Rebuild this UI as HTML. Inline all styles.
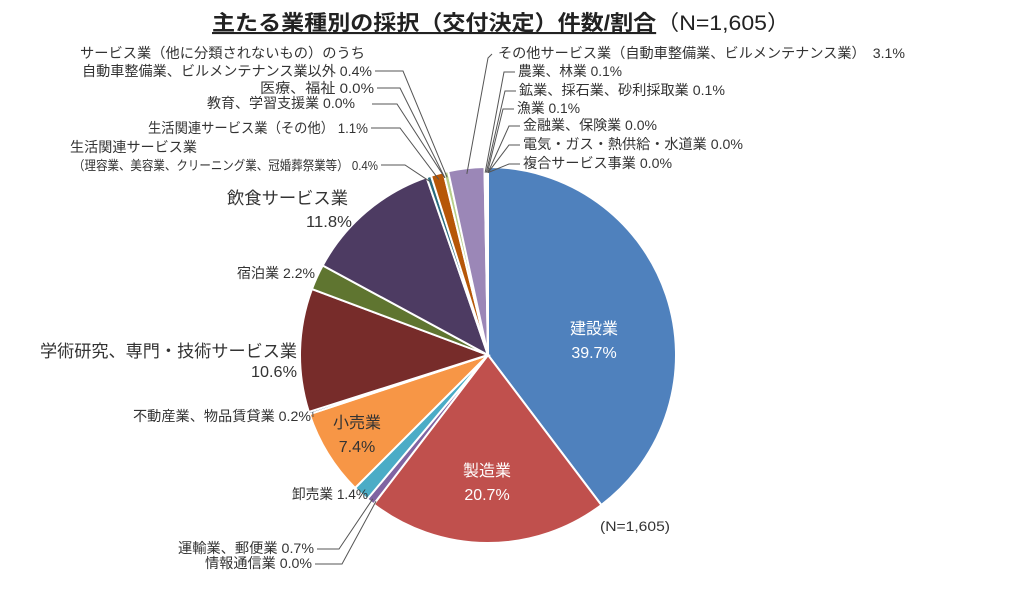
<!DOCTYPE html>
<html><head><meta charset="utf-8">
<style>
body{margin:0;background:#fff;width:1024px;height:606px;overflow:hidden}
svg{font-family:"Liberation Sans","Noto Sans CJK JP",sans-serif}
</style></head>
<body>
<svg id="chart" width="1024" height="606" viewBox="0 0 1024 606" xmlns="http://www.w3.org/2000/svg">
<text x="212" y="30" font-size="21" fill="#222" textLength="578" lengthAdjust="spacingAndGlyphs"><tspan font-weight="bold" text-decoration="underline">主たる業種別の採択（交付決定）件数/割合</tspan><tspan>（N=1,605）</tspan></text>
<g id="slices"></g>
<g id="leaders"></g>
<g id="labels"></g>
</svg>
<script>
const categories=["建設業","製造業","情報通信業","運輸業、郵便業","卸売業","小売業","不動産業、物品賃貸業","学術研究、専門・技術サービス業","宿泊業","飲食サービス業","生活関連サービス業（理容業等）","生活関連サービス業（その他）","教育、学習支援業","医療、福祉","サービス業（その他）","その他サービス業","農業、林業","鉱業、採石業、砂利採取業","漁業","金融業、保険業","電気・ガス・熱供給・水道業","複合サービス事業"];
const values=[39.7,20.7,0.0,0.7,1.4,7.4,0.2,10.6,2.2,11.8,0.4,1.1,0.0,0.0,0.4,3.1,0.1,0.1,0.1,0.0,0.0,0.0];
const valueLabels=["39.7%","20.7%","0.0%","0.7%","1.4%","7.4%","0.2%","10.6%","2.2%","11.8%","0.4%","1.1%","0.0%","0.0%","0.4%","3.1%","0.1%","0.1%","0.1%","0.0%","0.0%","0.0%"];
const colors=["#4f81bd","#c0504d","#9bbb59","#8064a2","#4bacc6","#f79646","#2c4d75","#772c2a","#5f7530","#4d3b62","#276a7c","#b65708","#729aca","#ce8e8c","#b7cf8a","#9b87b7","#7fc5d8","#f9b176","#3a67a0","#9e3b39","#7e9c40","#664f82"];
const NS="http://www.w3.org/2000/svg";
const cx=488,cy=355,R=188;
const total=values.reduce((a,b)=>a+b,0);
function ang(v){return v/total*2*Math.PI;}
function pt(a,r){return [cx+r*Math.sin(a),cy-r*Math.cos(a)];}
const sg=document.getElementById('slices');
const mids=[];
let a0=0;
values.forEach((v,i)=>{
  const a1=a0+ang(v);mids.push((a0+a1)/2);
  if(v>0){
    const p0=pt(a0,R),p1=pt(a1,R);
    const large=(a1-a0)>Math.PI?1:0;
    const p=document.createElementNS(NS,'path');
    p.setAttribute('d',`M${cx},${cy}L${p0[0]},${p0[1]}A${R},${R} 0 ${large} 1 ${p1[0]},${p1[1]}Z`);
    p.setAttribute('fill',colors[i]);p.setAttribute('stroke','#fff');p.setAttribute('stroke-width','2');
    
    
    sg.appendChild(p);
  }
  a0=a1;
});
const lg=document.getElementById('labels'),ld=document.getElementById('leaders');
function txt(x,y,s,anchor,size,fill,name,len){
  const t=document.createElementNS(NS,'text');
  t.setAttribute('x',x);t.setAttribute('y',y);t.setAttribute('text-anchor',anchor);
  t.setAttribute('font-size',size);t.setAttribute('fill',fill||'#333');t.textContent=s;
  if(len){t.setAttribute('textLength',len);t.setAttribute('lengthAdjust','spacingAndGlyphs');}
  
  
  lg.appendChild(t);return t;
}
function leader(i,x,y,kx){
  const p=pt(mids[i],R*0.97);
  const l=document.createElementNS(NS,'polyline');
  l.setAttribute('points',`${x},${y} ${kx},${y} ${p[0]},${p[1]}`);
  l.setAttribute('fill','none');l.setAttribute('stroke','#555');l.setAttribute('stroke-width','1');
  
  
  ld.appendChild(l);
}
// inside labels
txt(594,334,categories[0],'middle',16,'#fff','label-construction');
txt(594,358,valueLabels[0],'middle',16,'#fff','value-construction');
txt(487,476,categories[1],'middle',16,'#fff','label-manufacturing');
txt(487,500,valueLabels[1],'middle',16,'#fff','value-manufacturing');
txt(357,428,categories[5],'middle',16,'#333','label-retail');
txt(357,452,valueLabels[5],'middle',16,'#333','value-retail');
// left labels
txt(80,58,'サービス業（他に分類されないもの）のうち','start',14,'#333','label-service-other-1',285);
txt(82,76,'自動車整備業、ビルメンテナンス業以外 '+valueLabels[14],'start',14,'#333','label-service-other-2',290);leader(14,375,71,403);
txt(260,93,'医療、福祉 '+valueLabels[13],'start',14,'#333','label-medical',114);leader(13,377,88,400);
txt(207,108,'教育、学習支援業 '+valueLabels[12],'start',14,'#333','label-education',148);leader(12,372,104,397);
txt(148,133,'生活関連サービス業（その他） '+valueLabels[11],'start',14,'#333','label-living-other',220);leader(11,371,128,400);
txt(70,152,'生活関連サービス業','start',14,'#333','label-living-1',127);
txt(73,170,'（理容業、美容業、クリーニング業、冠婚葬祭業等） '+valueLabels[10],'start',13,'#333','label-living-2',305);leader(10,381,165,405);
txt(227,204,categories[9],'start',17,'#333','label-food',121);
txt(306,227,valueLabels[9],'start',16,'#333','value-food',46);
txt(237,278,categories[8]+' '+valueLabels[8],'start',14,'#333','label-lodging',78);
txt(40,357,categories[7],'start',17,'#333','label-academic',257);
txt(251,377,valueLabels[7],'start',16,'#333','value-academic',46);
txt(133,421,categories[6]+' '+valueLabels[6],'start',14,'#333','label-realestate',178);
txt(292,499,categories[4]+' '+valueLabels[4],'start',14,'#333','label-wholesale',76);
txt(178,553,categories[3]+' '+valueLabels[3],'start',14,'#333','label-transport',136);
txt(205,568,categories[2]+' '+valueLabels[2],'start',14,'#333','label-info',107);
(function(){
  const l=(i,pts)=>{const e=document.createElementNS(NS,'polyline');e.setAttribute('points',pts);e.setAttribute('fill','none');e.setAttribute('stroke','#555');
  
  
  ld.appendChild(e);};
  const p3=pt(mids[3],R*0.98),p2=pt(mids[2],R*0.98),p6=pt(mids[6],R*0.98);
  l(3,`317,549 339,549 ${p3[0]},${p3[1]}`);
  l(2,`315,564 342,564 ${p2[0]},${p2[1]}`);
  l(6,`313,417 ${p6[0]},${p6[1]}`);
})();
// right labels
const right=[[15,498,58,'その他サービス業（自動車整備業、ビルメンテナンス業）','\u3000',407],[16,518,76,categories[16],' ',104],[17,519,95,categories[17],' ',206],[18,517,113,categories[18],' ',63],[19,523,130,categories[19],' ',134],[20,523,149,categories[20],' ',220],[21,523,168,categories[21],' ',149]];
right.forEach(r=>{
  txt(r[1],r[2],r[3]+r[4]+valueLabels[r[0]],'start',14,'#333','label-right-'+r[0],r[5]);
  const p=pt(mids[r[0]],R*0.97);
  const e=document.createElementNS(NS,'polyline');
  const k=r[0]===15?[r[1]-6,r[2]-4,r[1]-10,r[2]]:[r[1]-3,r[2]-4,r[1]-14,r[2]-4];
  e.setAttribute('points',`${k[0]},${k[1]} ${k[2]},${k[3]} ${p[0]},${p[1]}`);
  e.setAttribute('fill','none');e.setAttribute('stroke','#555');
  
  
  ld.appendChild(e);
});
txt(600,531,'(N=1,605)','start',14,'#333','sample-size-note',70);
</script>
</body></html>
